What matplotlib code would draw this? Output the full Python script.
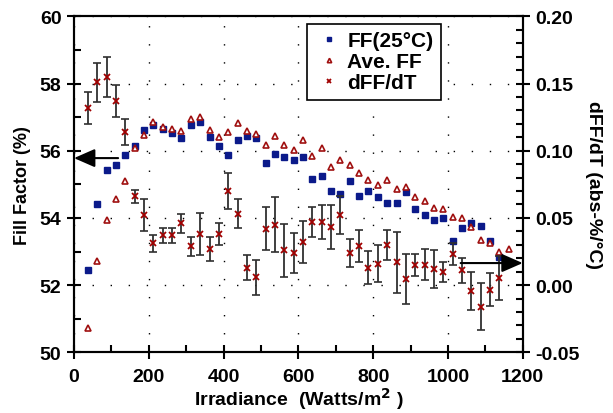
import numpy as np
import matplotlib
matplotlib.use("Agg")
import matplotlib.pyplot as plt

plt.rcParams['font.family'] = ['Liberation Sans', 'DejaVu Sans']
plt.rcParams['font.weight'] = 'bold'

# irradiance (W/m2)
irr = [37.5, 62.5, 87.5, 112.5, 137.5, 162.5, 187.5, 212.5, 237.5, 262.5,
       287.5, 312.5, 337.5, 362.5, 387.5, 412.5, 437.5, 462.5, 487.5, 512.5,
       537.5, 562.5, 587.5, 612.5, 637.5, 662.5, 687.5, 712.5, 737.5, 762.5,
       787.5, 812.5, 837.5, 862.5, 887.5, 912.5, 937.5, 962.5, 987.5, 1012.5,
       1037.5, 1062.5, 1087.5, 1112.5, 1137.5]
irr_ave = irr + [1162.5]

ff25 = [52.45, 54.41, 55.43, 55.58, 55.88, 56.15, 56.62, 56.77, 56.65, 56.52,
        56.39, 56.77, 56.85, 56.40, 56.15, 55.88, 56.33, 56.45, 56.39, 55.62,
        55.90, 55.80, 55.72, 55.80, 55.16, 55.24, 54.81, 54.71, 55.09, 54.65,
        54.81, 54.63, 54.45, 54.43, 54.78, 54.26, 54.10, 53.94, 53.99, 53.32,
        53.70, 53.84, 53.77, 53.32, 52.83]

ff_ave = [50.71, 52.71, 53.95, 54.56, 55.11, 56.08, 56.47, 56.85, 56.72, 56.65,
          56.58, 56.94, 57.00, 56.62, 56.40, 56.55, 56.82, 56.60, 56.50, 56.18,
          56.45, 56.18, 56.02, 56.32, 55.83, 56.07, 55.52, 55.72, 55.57, 55.34,
          55.14, 54.98, 55.14, 54.86, 54.91, 54.63, 54.51, 54.29, 54.27, 54.02,
          54.00, 53.74, 53.34, 53.24, 52.98, 53.07]

dffdt = [0.132, 0.151, 0.155, 0.137, 0.114, 0.066, 0.052, 0.031, 0.037, 0.037,
         0.046, 0.029, 0.038, 0.027, 0.038, 0.070, 0.053, 0.013, 0.006, 0.042,
         0.045, 0.026, 0.024, 0.032, 0.047, 0.047, 0.043, 0.052, 0.024, 0.029,
         0.013, 0.016, 0.030, 0.017, 0.0045, 0.015, 0.015, 0.012, 0.0095, 0.023,
         0.011, -0.0044, -0.016, -0.0034, 0.005]
dffdt_err = [0.012, 0.0145, 0.015, 0.012, 0.0094, 0.005, 0.012, 0.0064, 0.0058, 0.0058,
             0.0071, 0.0071, 0.0155, 0.0089, 0.0084, 0.0136, 0.0107, 0.0093, 0.013, 0.016,
             0.0205, 0.0198, 0.0151, 0.0155, 0.0109, 0.0124, 0.0165, 0.0143, 0.0105, 0.0117,
             0.0124, 0.0136, 0.0112, 0.0228, 0.0184, 0.0084, 0.0115, 0.014, 0.0074, 0.0083,
             0.0093, 0.014, 0.0174, 0.0125, 0.0164]

fig = plt.figure(figsize=(6.13, 4.14), dpi=100)
ax = fig.add_axes([0.1207, 0.1466, 0.732, 0.8116])
ax2 = ax.twinx()

ax.set_xlim(0, 1200)
ax.set_ylim(50, 60)
ax2.set_ylim(-0.05, 0.20)
ax.set_xticks(np.arange(0, 1201, 200))
ax.set_xticks(np.arange(0, 1201, 100), minor=True)
ax.set_yticks(np.arange(50, 61, 2))
ax.set_yticks(np.arange(50, 61, 1), minor=True)
ax2.set_yticks([-0.05, 0.0, 0.05, 0.10, 0.15, 0.20])
ax2.set_yticks(np.arange(-0.05, 0.2001, 0.01), minor=True)
ax2.set_yticklabels(['-0.05', '0.00', '0.05', '0.10', '0.15', '0.20'])

ax.grid(True, which='major', color='black', linestyle=(0, (1, 12)), linewidth=1)

for a in (ax, ax2):
    for s in a.spines.values():
        s.set_linewidth(1.5)
    a.tick_params(which='major', direction='inout', length=10, width=1.5, labelsize=14, pad=4)
    a.tick_params(which='minor', direction='in', length=5, width=1.5)
ax.tick_params(axis='x', which='major', pad=6)

h1, = ax.plot(irr, ff25, 's', color='#0b1a8a', markersize=5, label='FF(25°C)', zorder=3)
h2, = ax.plot(irr_ave, ff_ave, '^', markerfacecolor='white', markeredgecolor='#a01010',
              markeredgewidth=1.2, markersize=4.5, label='Ave. FF', zorder=4)
ax2.errorbar(irr, dffdt, yerr=dffdt_err, fmt='none', ecolor='#303030', elinewidth=1.3,
             capsize=3, capthick=1.2, zorder=2)
h3, = ax2.plot(irr, dffdt, 'x', color='#a00000', markersize=5, markeredgewidth=1.3,
               label='dFF/dT', zorder=3)

ax.annotate('', xy=(0, 55.78), xytext=(118, 55.78),
            arrowprops=dict(arrowstyle='-|>,head_length=0.8,head_width=0.35', color='black',
                            lw=1.5, shrinkA=0, shrinkB=0, mutation_scale=16))
ax2.annotate('', xy=(1200, 0.0164), xytext=(1034, 0.0164),
             arrowprops=dict(arrowstyle='-|>,head_length=0.8,head_width=0.35', color='black',
                             lw=1.5, shrinkA=0, shrinkB=0, mutation_scale=16))

ax.set_xlabel('Irradiance  (Watts/m$^{\\mathbf{2}}$ )', fontsize=14, fontweight='bold', labelpad=0.5)
ax.set_ylabel('Fill Factor (%)', fontsize=13, fontweight='bold', labelpad=6)
ax2.set_ylabel('dFF/dT (abs-%/°C)', fontsize=14, fontweight='bold', rotation=270, labelpad=16)

leg = ax2.legend(handles=[h1, h2, h3], loc='upper left', bbox_to_anchor=(0.519, 0.977),
                 borderaxespad=0, fontsize=15, frameon=True, fancybox=False, edgecolor='black',
                 handlelength=1.4, handletextpad=0.2, borderpad=0.35, labelspacing=0.1,
                 markerscale=0.7)
leg.get_frame().set_linewidth(1.2)
leg.get_frame().set_alpha(1)

fig.savefig('out.png', dpi=100)
